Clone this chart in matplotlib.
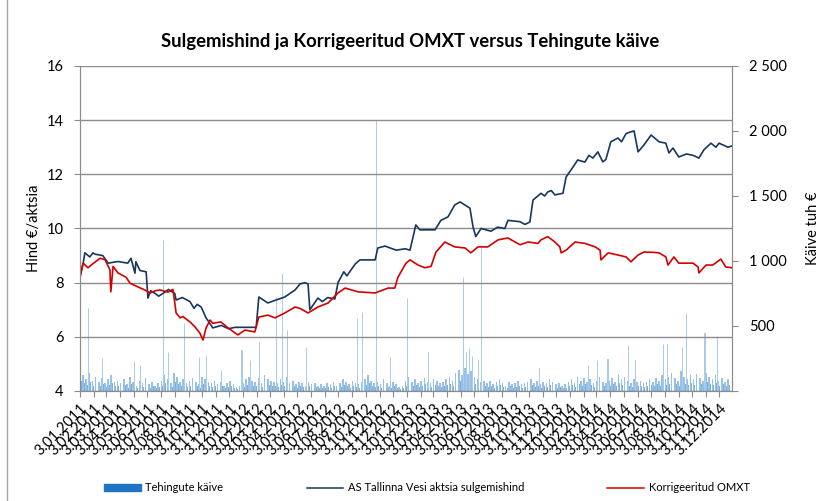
import matplotlib.pyplot as plt
import matplotlib.dates as mdates
from matplotlib.patches import Patch
from matplotlib.lines import Line2D
import pandas as pd

# AS Tallinna Vesi closing price, EUR per share
price_dates = [
    "2011-01-03", "2011-01-10", "2011-01-14", "2011-01-25", "2011-02-01", "2011-02-06",
    "2011-02-23", "2011-03-07", "2011-03-29", "2011-04-20", "2011-04-27", "2011-05-06",
    "2011-05-08", "2011-05-17", "2011-05-31", "2011-06-04", "2011-06-10", "2011-06-20",
    "2011-06-28", "2011-07-12", "2011-07-20", "2011-08-03", "2011-08-06", "2011-08-20",
    "2011-09-06", "2011-09-15", "2011-09-22", "2011-10-01", "2011-10-12", "2011-10-27",
    "2011-11-15", "2011-12-01", "2011-12-16", "2012-02-01", "2012-02-07", "2012-02-27",
    "2012-03-15", "2012-04-05", "2012-04-28", "2012-05-09", "2012-05-20", "2012-05-27",
    "2012-05-31", "2012-06-18", "2012-06-28", "2012-07-10", "2012-07-26", "2012-08-02",
    "2012-08-15", "2012-08-22", "2012-08-31", "2012-09-10", "2012-09-20", "2012-10-24",
    "2012-10-30", "2012-11-15", "2012-12-10", "2012-12-30", "2013-01-10", "2013-01-23",
    "2013-02-01", "2013-03-07", "2013-03-20", "2013-04-05", "2013-04-20", "2013-05-02",
    "2013-05-24", "2013-05-31", "2013-06-06", "2013-06-18", "2013-07-10", "2013-07-25",
    "2013-08-10", "2013-08-17", "2013-09-13", "2013-09-24", "2013-10-05", "2013-10-12",
    "2013-10-30", "2013-11-07", "2013-11-14", "2013-11-22", "2013-11-30", "2013-12-18",
    "2013-12-25", "2014-01-05", "2014-01-20", "2014-02-05", "2014-02-14", "2014-02-23",
    "2014-03-06", "2014-03-17", "2014-03-24", "2014-04-04", "2014-04-20", "2014-04-28",
    "2014-05-08", "2014-05-17", "2014-05-26", "2014-06-04", "2014-06-17", "2014-07-03",
    "2014-07-21", "2014-08-05", "2014-08-12", "2014-08-21", "2014-09-03", "2014-09-20",
    "2014-10-05", "2014-10-18", "2014-10-29", "2014-11-14", "2014-11-25", "2014-12-02",
    "2014-12-22", "2014-12-31",
]
price_vals = [
    8.2, 8.7, 9.1, 8.95, 9.1, 9.05,
    9.0, 8.72, 8.78, 8.72, 8.9, 8.35,
    8.77, 8.45, 8.4, 7.43, 7.7, 7.6,
    7.5, 7.65, 7.75, 7.6, 7.36, 7.45,
    7.3, 7.05, 7.2, 7.1, 6.7, 6.33,
    6.42, 6.3, 6.35, 6.35, 7.47, 7.25,
    7.35, 7.47, 7.73, 7.95, 8.0, 7.95,
    7.0, 7.43, 7.3, 7.45, 7.4, 8.0,
    8.4, 8.25, 8.47, 8.7, 8.84, 8.84,
    9.28, 9.35, 9.2, 9.25, 9.2, 10.13,
    9.95, 9.95, 10.3, 10.43, 10.87, 10.98,
    10.75, 10.05, 9.7, 10.0, 9.9, 10.05,
    10.0, 10.3, 10.25, 10.15, 10.24, 11.05,
    11.3, 11.2, 11.35, 11.4, 11.24, 11.3,
    11.9, 12.16, 12.53, 12.45, 12.7, 12.6,
    12.83, 12.46, 12.55, 13.2, 13.34, 13.2,
    13.5, 13.56, 13.6, 12.83, 13.08, 13.45,
    13.2, 13.15, 12.79, 12.97, 12.64, 12.75,
    12.7, 12.6, 12.9, 13.15, 13.0, 13.15,
    13.0, 13.05,
]

# Korrigeeritud OMXT (scaled to price axis)
omxt_dates = [
    "2011-01-03", "2011-01-10", "2011-01-21", "2011-02-01", "2011-02-17", "2011-02-28",
    "2011-03-11", "2011-03-13", "2011-03-18", "2011-03-29", "2011-04-16", "2011-04-25",
    "2011-05-13", "2011-05-28", "2011-06-09", "2011-06-20", "2011-07-01", "2011-07-19",
    "2011-07-30", "2011-08-06", "2011-08-15", "2011-08-21", "2011-09-06", "2011-09-17",
    "2011-09-28", "2011-10-05", "2011-10-12", "2011-10-21", "2011-10-27", "2011-11-14",
    "2011-11-30", "2011-12-22", "2012-01-07", "2012-01-29", "2012-02-07", "2012-02-27",
    "2012-03-14", "2012-04-05", "2012-04-28", "2012-05-09", "2012-05-27", "2012-06-18",
    "2012-07-11", "2012-08-02", "2012-08-18", "2012-09-16", "2012-10-24", "2012-11-22",
    "2012-12-07", "2012-12-14", "2013-01-01", "2013-01-10", "2013-01-28", "2013-02-12",
    "2013-02-26", "2013-03-09", "2013-03-29", "2013-04-20", "2013-05-13", "2013-05-26",
    "2013-06-11", "2013-07-03", "2013-07-26", "2013-08-17", "2013-09-02", "2013-09-13",
    "2013-10-01", "2013-10-23", "2013-10-30", "2013-11-14", "2013-11-30", "2013-12-11",
    "2013-12-14", "2013-12-25", "2014-01-14", "2014-02-05", "2014-02-28", "2014-03-11",
    "2014-03-13", "2014-03-29", "2014-04-20", "2014-05-08", "2014-05-19", "2014-06-04",
    "2014-06-17", "2014-07-07", "2014-07-21", "2014-08-05", "2014-08-10", "2014-08-23",
    "2014-09-03", "2014-10-05", "2014-10-16", "2014-10-18", "2014-11-03", "2014-11-18",
    "2014-12-06", "2014-12-17", "2014-12-31",
]
omxt_vals = [
    8.2, 8.72, 8.55, 8.7, 8.9, 8.85,
    8.47, 7.66, 8.6, 8.36, 8.2, 7.98,
    7.84, 7.73, 7.62, 7.7, 7.73, 7.65,
    7.75, 6.88, 6.7, 6.75, 6.55, 6.37,
    6.14, 5.88, 6.33, 6.62, 6.5, 6.55,
    6.33, 6.07, 6.25, 6.18, 6.73, 6.8,
    6.7, 6.88, 7.1, 7.05, 6.88, 7.1,
    7.25, 7.62, 7.8, 7.66, 7.62, 7.8,
    7.8, 8.2, 8.72, 8.84, 8.65, 8.55,
    8.6, 9.13, 9.5, 9.32, 9.28, 9.1,
    9.32, 9.32, 9.58, 9.65, 9.5, 9.4,
    9.5, 9.45, 9.58, 9.7, 9.5, 9.32,
    9.1, 9.2, 9.5, 9.45, 9.32, 9.2,
    8.84, 9.1, 9.02, 8.95, 8.77, 9.02,
    9.13, 9.12, 9.1, 8.95, 8.65, 8.95,
    8.72, 8.72, 8.58, 8.36, 8.65, 8.65,
    8.87, 8.58, 8.55,
]

# Tehingute käive, thousand EUR: typical weekly level plus the larger single days
turnover_start = "2011-01-03"
weekly_turnover = [
    150, 120, 90, 140, 80, 110, 70, 100, 60, 90, 120, 70, 80,
    60, 90, 50, 110, 70, 40, 80, 60, 100, 50, 70, 40, 60,
    80, 120, 90, 60, 140, 110, 70, 90, 60, 80, 100, 70, 50,
    110, 90, 70, 60, 80, 50, 70, 40, 60, 80, 50, 30, 40,
    60, 90, 110, 80, 70, 100, 60, 120, 90, 80, 70, 60, 90,
    70, 110, 60, 80, 50, 70, 60, 40, 70, 50, 60, 40, 50,
    40, 60, 50, 70, 40, 60, 90, 70, 50, 80, 60, 50, 70,
    90, 120, 80, 60, 70, 50, 90, 60, 40, 70, 50, 30, 40,
    80, 110, 70, 90, 60, 80, 100, 70, 60, 90, 80, 60, 70,
    90, 110, 80, 140, 160, 120, 180, 130, 150, 110, 90, 70, 80,
    60, 80, 50, 70, 90, 60, 40, 70, 50, 60, 80, 50, 60,
    70, 90, 60, 80, 50, 70, 60, 90, 70, 50, 60, 40, 50,
    70, 90, 60, 110, 80, 100, 70, 90, 60, 80, 110, 70, 60,
    80, 100, 70, 120, 90, 110, 80, 60, 90, 70, 80, 60, 70,
    90, 70, 100, 80, 120, 90, 110, 140, 100, 80, 150, 110, 90,
    120, 90, 130, 100, 80, 140, 110, 90, 120, 80, 100, 70, 90,
]
spike_dates = [
    "2011-01-21", "2011-02-21", "2011-05-04", "2011-05-17", "2011-07-08", "2011-07-19",
    "2011-08-24", "2011-09-26", "2011-10-12", "2011-11-14", "2011-12-30", "2012-01-18",
    "2012-02-07", "2012-03-16", "2012-03-30", "2012-04-10", "2012-05-22", "2012-09-13",
    "2012-09-25", "2012-10-26", "2012-11-26", "2013-01-03", "2013-02-19", "2013-05-08",
    "2013-05-15", "2013-05-22", "2013-05-29", "2013-06-11", "2013-06-18", "2013-10-25",
    "2014-02-12", "2014-03-04", "2014-03-28", "2014-05-12", "2014-05-28", "2014-07-30",
    "2014-08-08", "2014-09-10", "2014-09-19", "2014-10-31", "2014-11-27",
]
spike_vals = [
    640, 255, 230, 200, 1160, 300,
    520, 265, 280, 160, 315, 240,
    380, 720, 910, 470, 340, 560,
    610, 2080, 260, 715, 300, 875,
    300, 330, 270, 240, 1100, 180,
    200, 235, 245, 355, 240, 365,
    365, 335, 600, 445, 420,
]

FONT = "Lato"
GRID = "#8c8c8c"
NAVY = "#17375e"
RED = "#d40000"


def main():
    plt.rcParams["font.family"] = [FONT, "DejaVu Sans"]

    fig = plt.figure(figsize=(8.21, 5.01), dpi=100)
    ax_b = fig.add_axes([0.0974, 0.2196, 0.7942, 0.6487])

    # turnover bars on the right axis
    weeks = pd.date_range(turnover_start, periods=len(weekly_turnover), freq="7D")
    ax_b.bar(weeks, weekly_turnover, width=3.5, color="#8dbbe6", alpha=0.9, linewidth=0)
    ax_b.bar(weeks + pd.Timedelta(days=3), [v * 0.5 for v in weekly_turnover], width=2.0,
             color="#5b9bd5", alpha=0.8, linewidth=0)
    ax_b.bar(pd.to_datetime(spike_dates), spike_vals, width=1.0,
             color="#a9cbea", edgecolor="#a9cbea", linewidth=0.7)
    ax_b.set_ylim(0, 2500)

    # price lines on the left axis
    ax_l = ax_b.twinx()
    ax_l.yaxis.tick_left()
    ax_l.yaxis.set_label_position("left")
    ax_b.yaxis.tick_right()
    ax_b.yaxis.set_label_position("right")
    ax_b.set_yticks([0, 500, 1000, 1500, 2000, 2500])
    ax_b.set_yticklabels([""] + [f"{v:,}".replace(",", " ") for v in [500, 1000, 1500, 2000, 2500]])
    ax_b.set_ylabel("Käive tuh €", fontsize=10.5, labelpad=14)

    ax_l.plot(pd.to_datetime(price_dates), price_vals, color=NAVY, lw=1.2)
    ax_l.plot(pd.to_datetime(omxt_dates), omxt_vals, color=RED, lw=1.2)
    ax_l.set_ylim(4, 16)
    ax_l.set_yticks(range(4, 17, 2))
    ax_l.set_ylabel("Hind €/aktsia", fontsize=10.5, labelpad=4)
    ax_l.yaxis.grid(True, color=GRID, lw=1)
    ax_l.set_axisbelow(True)

    ax_b.set_xlim(pd.Timestamp("2011-01-03"), pd.Timestamp("2014-12-31"))
    ax_b.xaxis.set_major_locator(mdates.MonthLocator(bymonthday=3))
    ax_b.xaxis.set_major_formatter(
        plt.FuncFormatter(lambda x, pos: "{d.day}.{d.month:02d}.{d.year}".format(d=mdates.num2date(x)))
    )
    for lbl in ax_b.get_xticklabels():
        lbl.set_rotation(45)
        lbl.set_ha("right")
        lbl.set_rotation_mode("anchor")

    for a in (ax_b, ax_l):
        a.spines["top"].set_visible(False)
        for s in ("left", "right", "bottom"):
            a.spines[s].set_color(GRID)
        a.tick_params(colors=GRID, labelcolor="black", labelsize=10.5, length=4)
    ax_b.tick_params(axis="y", pad=8)
    ax_l.tick_params(axis="y", pad=8)

    fig.suptitle("Sulgemishind ja Korrigeeritud OMXT versus Tehingute käive",
                 x=0.5, y=0.935, fontsize=13.3, fontweight="bold")

    handles = [
        Patch(color="#1f74c4"),
        Line2D([], [], color=NAVY, lw=1.1),
        Line2D([], [], color=RED, lw=1.1),
    ]
    labels = ["Tehingute käive", "AS Tallinna Vesi aktsia sulgemishind", "Korrigeeritud OMXT"]
    fig.legend(handles, labels, loc="center", bbox_to_anchor=(0.52, 0.026), ncol=3,
               frameon=False, fontsize=8, handlelength=3.3, handleheight=0.6,
               columnspacing=7.5, handletextpad=0.4)

    fig.add_artist(Line2D([0.0085, 0.0085], [0, 1], color="#a6a6a6", lw=1))

    fig.savefig("out.png", dpi=100)


if __name__ == "__main__":
    main()
